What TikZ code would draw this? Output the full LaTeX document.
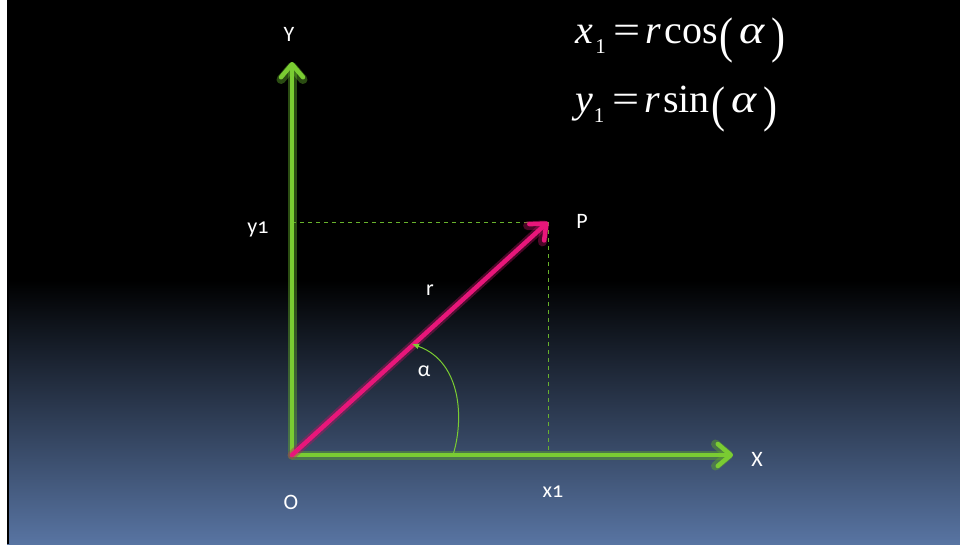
\documentclass[tikz,border=0pt]{standalone}
\usepackage{fontspec}
\usepackage{graphicx}
\setmainfont{Carlito}[Numbers=OldStyle]
\newfontfamily\formfont{Liberation Serif}
\usepackage{tikz}
\usetikzlibrary{positioning, arrows.meta}

\definecolor{axisgreen}{RGB}{122,204,50}
\definecolor{glowgreen}{RGB}{95,170,40}
\definecolor{vecpink}{RGB}{232,22,122}
\definecolor{dashgreen}{RGB}{104,178,44}
\definecolor{bottomblue}{RGB}{88,116,162}

\newcommand{\bigparen}[1]{\raisebox{-0.24em}{\scalebox{1.05}[1.25]{#1}}}
\newcommand{\subone}{\raisebox{-0.26em}{\fontsize{21}{21}\selectfont 1}}
\newcommand{\wideeq}{\scalebox{1.2}[1]{=}}
\newcommand{\widealpha}{\scalebox{1.2}[1]{\textit{α}}}

\begin{document}
\begin{tikzpicture}[
        x=1pt, y=-1pt,
        barb/.style={-{Straight Barb[length=13pt, width=22pt, round]}},
        axis/.style={barb, draw=axisgreen, line width=4.5pt, line cap=round},
        axisglow/.style={barb, draw=glowgreen, line width=9pt, opacity=0.45, line cap=round},
        vector/.style={barb, draw=vecpink, line width=4.5pt, line cap=round},
        vectorglow/.style={barb, draw=vecpink!80!black, line width=9pt, opacity=0.4, line cap=round},
        helper/.style={draw=dashgreen, line width=1pt, dash pattern=on 4pt off 4pt},
        label/.style={text=white, font=\fontsize{22}{22}\selectfont, inner sep=0pt},
        formula/.style={text=white, anchor=base west, inner sep=0pt, font=\formfont\fontsize{40}{40}\selectfont}
    ]
        \useasboundingbox (0,0) rectangle (960,544);
        % background
        \fill[white] (0,0) rectangle (7,544);
        \fill[black] (7,0) rectangle (960,280);
        \shade[top color=black, bottom color=bottomblue] (7,280) rectangle (960,544);
        \draw[black, line width=2pt] (7.5,0) -- (7.5,544);

        \coordinate (O) at (292,455);
        \coordinate (ytip) at (292,62);
        \coordinate (xtip) at (733,455);
        \coordinate (P) at (548,222);
        \coordinate (x1) at (548,455);
        \coordinate (y1) at (292,222);
        \coordinate (arcstart) at (453,455);
        \coordinate (arcend) at (412,344);

        % helper lines
        \draw[helper] (y1) -- (P);
        \draw[helper] (P) -- (x1);

        % axes
        \draw[axisglow] (O) -- (ytip);
        \draw[axisglow] (O) -- (xtip);
        \draw[axis] (O) -- (ytip);
        \draw[axis] (O) -- (xtip);

        % vector r
        \draw[vectorglow] (O) -- (P);
        \draw[vector] (O) -- (P);

        % angle
        \draw[axisgreen, line width=1pt, -{Latex[length=7pt, width=6pt]}] (arcstart) .. controls (464,420) and (462,362) .. (arcend);

        \node[label] (ylab) at (289,34) {Y};
        \node[label] (xlab) at (757,459) {X};
        \node[label] (olab) at (291,502) {O};
        \node[label] (x1lab) at (553,492) {x1};
        \node[label] (y1lab) at (258,229) {y1};
        \node[label] (plab) at (582,221) {P};
        \node[label] (rlab) at (430,290) {r};
        \node[label] (alab) at (424,371) {α};

        \node[formula] (xform) at (575,43) {\textit{x}\hspace{0.06em}\subone\hspace{0.2em}\wideeq\hspace{0.12em}\textit{r}\hspace{0.08em}cos\hspace{0.05em}\bigparen{(}\hspace{0.15em}\widealpha\hspace{0.15em}\bigparen{)}};
        \node[formula] (yform) at (575,112) {\textit{y}\hspace{0.02em}\subone\hspace{0.2em}\wideeq\hspace{0.12em}\textit{r}\hspace{0.08em}sin\hspace{0.05em}\bigparen{(}\hspace{0.15em}\widealpha\hspace{0.15em}\bigparen{)}};
    \end{tikzpicture}
\end{document}
